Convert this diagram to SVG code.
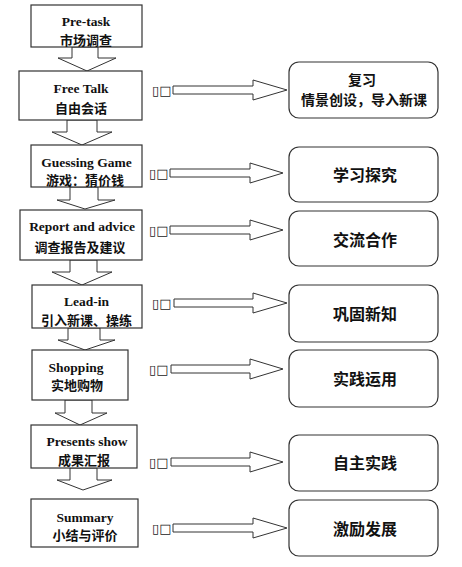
<svg xmlns="http://www.w3.org/2000/svg" width="462" height="567" viewBox="0 0 462 567">
<style>
.box{fill:#fff;stroke:#333;stroke-width:1.2}
.rbox{fill:#fff;stroke:#333;stroke-width:1.2}
.arr{fill:#fff;stroke:#333;stroke-width:1}
.en{font-family:"Liberation Serif",serif;font-weight:bold;font-size:13.5px;fill:#111;text-anchor:middle;dominant-baseline:central}
.zh{font-family:"Noto Sans CJK SC",sans-serif;font-weight:bold;font-size:13px;fill:#111;text-anchor:middle;dominant-baseline:central}
.zr{font-family:"Noto Sans CJK SC",sans-serif;font-weight:bold;font-size:14px;fill:#111;text-anchor:middle;dominant-baseline:central}
.zb{font-family:"Noto Sans CJK SC",sans-serif;font-weight:bold;font-size:16px;fill:#111;text-anchor:middle;dominant-baseline:central}
.tofu{font-family:"DejaVu Sans",sans-serif;font-size:13px;fill:#222;dominant-baseline:central}
</style>
<rect width="462" height="567" fill="#fff"/>
<g id="connectors">
<polygon class="arr" points="72,47 72,58 58,58 87,71 116,58 98,58 98,47"/>
<polygon class="arr" points="67,120 67,132 52,132 82,145 112,132 97,132 97,120"/>
<polygon class="arr" points="70,187 70,200 57,200 85,209 115,200 98,200 98,187"/>
<polygon class="arr" points="70,260 70,272 52,272 82,285 112,272 97,272 97,260"/>
<polygon class="arr" points="68,328 68,340 58,340 85,350 115,340 100,340 100,328"/>
<polygon class="arr" points="65,400 65,413 55,413 80,425 107,413 92,413 92,400"/>
<polygon class="arr" points="70,468 70,480 57,480 83,490 112,480 97,480 97,468"/>
<polygon class="arr" points="173,86 253,86 253,80 287,90 253,100 253,94 173,94"/>
<polygon class="arr" points="170,169 250,169 250,163 283,173 250,183 250,177 170,177"/>
<polygon class="arr" points="170,226 250,226 250,220 283,230 250,240 250,234 170,234"/>
<polygon class="arr" points="174,299 253,299 253,293 287,303 253,313 253,307 174,307"/>
<polygon class="arr" points="171,365 250,365 250,359 283,369 250,379 250,373 171,373"/>
<polygon class="arr" points="171,458 250,458 250,452 283,462 250,472 250,466 171,466"/>
<polygon class="arr" points="173,524 253,524 253,518 287,528 253,538 253,532 173,532"/>
<text class="tofu" x="152" y="90">▯□</text>
<text class="tofu" x="149" y="173">▯□</text>
<text class="tofu" x="149" y="230">▯□</text>
<text class="tofu" x="152" y="303">▯□</text>
<text class="tofu" x="149" y="369">▯□</text>
<text class="tofu" x="149" y="462">▯□</text>
<text class="tofu" x="152" y="528">▯□</text>
</g>
<g id="pretask"><rect class="box" x="31" y="5" width="111" height="42"/><text class="en" x="86" y="21">Pre-task</text><text class="zh" x="86" y="39">市场调查</text></g>
<g id="freetalk"><rect class="box" x="19" y="71" width="123" height="49"/><text class="en" x="81" y="88">Free Talk</text><text class="zh" x="81" y="107">自由会话</text></g>
<g id="guessing"><rect class="box" x="31" y="145" width="111" height="42"/><text class="en" x="86.5" y="162">Guessing Game</text><text class="zh" x="85" y="179">游戏：猜价钱</text></g>
<g id="report"><rect class="box" x="20" y="210" width="122" height="50"/><text class="en" x="82" y="226">Report and advice</text><text class="zh" x="80" y="246">调查报告及建议</text></g>
<g id="leadin"><rect class="box" x="32" y="285" width="110" height="43"/><text class="en" x="86.5" y="301">Lead-in</text><text class="zh" x="86.5" y="319">引入新课、操练</text></g>
<g id="shopping"><rect class="box" x="32" y="350" width="96" height="50"/><text class="en" x="76" y="367">Shopping</text><text class="zh" x="77" y="384">实地购物</text></g>
<g id="presents"><rect class="box" x="31" y="425" width="106" height="43"/><text class="en" x="87" y="441">Presents show</text><text class="zh" x="84" y="459">成果汇报</text></g>
<g id="summary"><rect class="box" x="31" y="499" width="107" height="48"/><text class="en" x="85" y="517">Summary</text><text class="zh" x="85" y="534">小结与评价</text></g>
<g id="r1"><rect class="rbox" x="289" y="62" width="149" height="56" rx="10"/><text class="zr" x="362" y="79">复习</text><text class="zr" x="364" y="99">情景创设，导入新课</text></g>
<g id="r2"><rect class="rbox" x="289" y="147" width="149" height="55" rx="10"/><text class="zb" x="365" y="174">学习探究</text></g>
<g id="r3"><rect class="rbox" x="289" y="211" width="149" height="55" rx="10"/><text class="zb" x="365" y="239">交流合作</text></g>
<g id="r4"><rect class="rbox" x="289" y="285" width="149" height="57" rx="10"/><text class="zb" x="365" y="313">巩固新知</text></g>
<g id="r5"><rect class="rbox" x="289" y="350" width="149" height="57" rx="10"/><text class="zb" x="365" y="378">实践运用</text></g>
<g id="r6"><rect class="rbox" x="289" y="435" width="149" height="56" rx="10"/><text class="zb" x="365" y="462">自主实践</text></g>
<g id="r7"><rect class="rbox" x="289" y="500" width="149" height="56" rx="10"/><text class="zb" x="365" y="528">激励发展</text></g>
</svg>
